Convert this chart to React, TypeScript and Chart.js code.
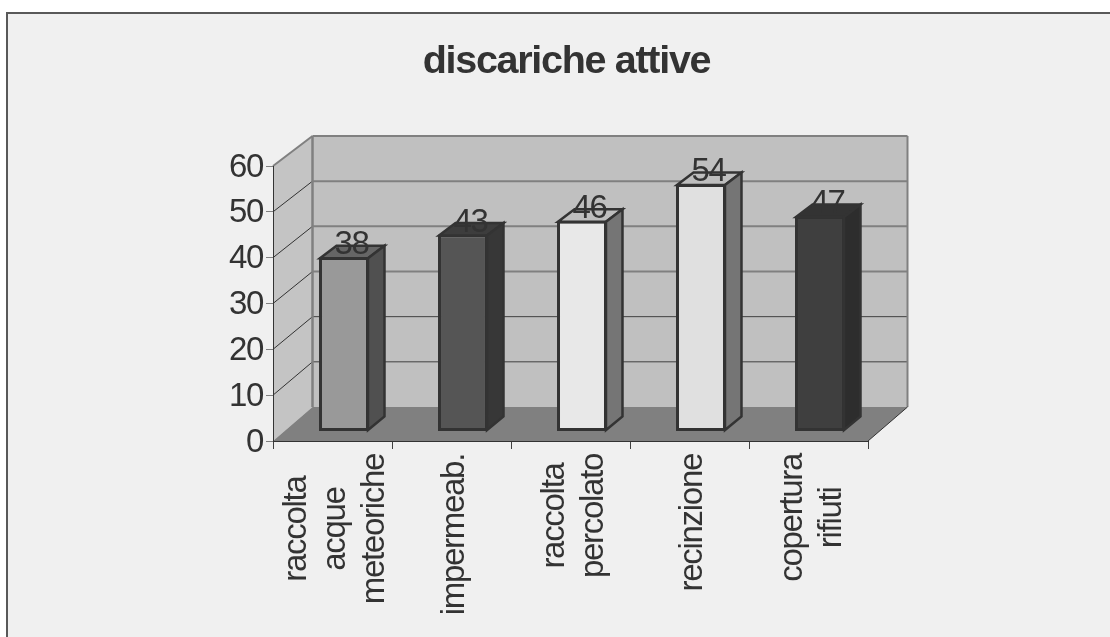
import React, { useEffect, useRef } from "react";
import { Chart, registerables } from "chart.js";

Chart.register(...registerables);

const titleText = "discariche attive";
const categories: string[][] = [
  ["raccolta", "acque", "meteoriche"],
  ["impermeab."],
  ["raccolta", "percolato"],
  ["recinzione"],
  ["copertura", "rifiuti"],
];
const values = [38, 43, 46, 54, 47];
const frontColors = ["#999999", "#555555", "#e8e8e8", "#e0e0e0", "#3f3f3f"];
const sideColors = ["#505050", "#373737", "#757575", "#757575", "#2d2d2d"];
const topColors = ["#666666", "#3d3d3d", "#bebebe", "#bebebe", "#333333"];

const FONT = '"Liberation Sans", Arial, sans-serif';
const TEXT = "#333333";
const TEXT_SIZE = 33;
const DEPTH_X = 39.5;
const DEPTH_Y = 34;
const BAR_SHIFT_X = 11.5;
const BAR_SHIFT_Y = 9.5;
const BAR_DX = 16.5;
const BAR_DY = 12.5;

const backY = (front: number, value: number) => front - DEPTH_Y + value * 0.0667;

const poly = (ctx: CanvasRenderingContext2D, pts: number[][], fill?: string, stroke?: string, lw = 1) => {
  ctx.beginPath();
  pts.forEach(([x, y], i) => (i ? ctx.lineTo(x, y) : ctx.moveTo(x, y)));
  ctx.closePath();
  if (fill) {
    ctx.fillStyle = fill;
    ctx.fill();
  }
  if (stroke) {
    ctx.strokeStyle = stroke;
    ctx.lineWidth = lw;
    ctx.lineJoin = "miter";
    ctx.stroke();
  }
};

const seg = (ctx: CanvasRenderingContext2D, x1: number, y1: number, x2: number, y2: number, c: string, lw: number) => {
  ctx.beginPath();
  ctx.moveTo(x1, y1);
  ctx.lineTo(x2, y2);
  ctx.strokeStyle = c;
  ctx.lineWidth = lw;
  ctx.stroke();
};

const box3d = {
  id: "box3d",
  afterLayout(chart: any) {
    chart.titleBlock.left = 0;
    chart.titleBlock.right = 1133;
  },
  beforeDraw(chart: any) {
    const { ctx, chartArea: a, scales } = chart;
    const y = scales.y;
    const x = scales.x;
    (ctx as any).letterSpacing = "-1.3px";
    ctx.save();
    // frame
    ctx.fillStyle = "#ffffff";
    ctx.fillRect(0, 0, chart.width, chart.height);
    ctx.fillStyle = "#f0f0f0";
    ctx.fillRect(7, 13, chart.width, chart.height);
    ctx.strokeStyle = "#595959";
    ctx.lineWidth = 2;
    ctx.strokeRect(7, 13, chart.width + 10, chart.height + 10);

    const top = y.getPixelForValue(60);
    const bot = y.getPixelForValue(0);
    const l = a.left;
    const r = a.right;
    const bTop = backY(top, 60);
    const bBot = backY(bot, 0);
    // walls and floor
    poly(ctx, [[l, top], [l + DEPTH_X, bTop], [l + DEPTH_X, bBot], [l, bot]], "#c4c4c4");
    poly(ctx, [[l + DEPTH_X, bTop], [r + DEPTH_X, bTop], [r + DEPTH_X, bBot], [l + DEPTH_X, bBot]], "#c0c0c0");
    // gridlines
    (y.ticks as any[]).forEach((t) => {
      if (t.value === 0) return;
      const fy = y.getPixelForValue(t.value);
      const by = backY(fy, t.value);
      const c = t.value >= 30 ? "#808080" : "#404040";
      const lw = t.value >= 30 ? 2 : 1;
      if (t.value < 60) seg(ctx, l, fy, l + DEPTH_X, by, "#333333", 1);
      seg(ctx, l + DEPTH_X, by, r + DEPTH_X, by, c, lw);
    });
    // wall edges
    seg(ctx, l, top, l + DEPTH_X, bTop, "#808080", 2);
    seg(ctx, l + DEPTH_X, bTop, l + DEPTH_X, bBot, "#808080", 2.5);
    seg(ctx, r + DEPTH_X, bTop, r + DEPTH_X, bBot, "#808080", 2);
    poly(ctx, [[l, bot], [l + DEPTH_X, bBot], [r + DEPTH_X, bBot], [r, bot]], "#808080");
    seg(ctx, r, bot, r + DEPTH_X, bBot, "#333333", 1);

    // x tick labels: centred lines, reading upward
    const items = x.getLabelItems(a);
    ctx.font = `${TEXT_SIZE}px ${FONT}`;
    let idx = 0;
    items.forEach((it: any) => {
      const lines: string[] = Array.isArray(it.label) ? it.label : [it.label];
      const maxW = Math.max(...lines.map((s) => ctx.measureText(s).width));
      const lh = it.font.lineHeight;
      it.options.textAlign = "center";
      it.options.translation = [x.getPixelForTick(idx) + 3.5, 454 + maxW / 2];
      it.textOffset = (-(lines.length - 1) / 2) * lh;
      idx++;
    });
    // y tick labels sit slightly lower than the tick marks
    y.getLabelItems(a).forEach((it: any, i: number) => {
      it.options.translation = [it.options.translation[0], y.getPixelForTick(i) + 1.5];
    });
    ctx.restore();
  },
  beforeDatasetDraw(chart: any) {
    chart.ctx.save();
    chart.ctx.translate(BAR_SHIFT_X, -BAR_SHIFT_Y);
  },
  afterDatasetDraw(chart: any) {
    chart.ctx.restore();
  },
  afterDatasetsDraw(chart: any) {
    const { ctx } = chart;
    const meta = chart.getDatasetMeta(0);
    ctx.save();
    ctx.translate(BAR_SHIFT_X, -BAR_SHIFT_Y);
    meta.data.forEach((bar: any, i: number) => {
      const hw = bar.width / 2;
      const L = bar.x - hw + 1;
      const R = bar.x + hw - 1;
      const T = bar.y + 1;
      const B = bar.base - 1;
      poly(ctx, [[L, T], [L + BAR_DX, T - BAR_DY], [R + BAR_DX, T - BAR_DY], [R, T]], topColors[i], "#333333", 2.5);
      poly(ctx, [[R, T], [R + BAR_DX, T - BAR_DY], [R + BAR_DX, B - BAR_DY - 1], [R, B]], sideColors[i], "#333333", 2.5);
    });
    ctx.fillStyle = TEXT;
    ctx.font = `${TEXT_SIZE}px ${FONT}`;
    ctx.textAlign = "center";
    ctx.textBaseline = "middle";
    meta.data.forEach((bar: any, i: number) => {
      ctx.fillText(String(values[i]), bar.x + 7.5, bar.y - 12);
    });
    ctx.restore();
  },
};

export default function App() {
  const ref = useRef<HTMLCanvasElement>(null);
  useEffect(() => {
    const chart = new Chart(ref.current!, {
      type: "bar",
      data: {
        labels: categories,
        datasets: [
          {
            data: values,
            backgroundColor: frontColors,
            borderColor: "#333333",
            borderWidth: 3,
            borderSkipped: false,
            barPercentage: 0.42,
            categoryPercentage: 1,
            clip: false,
          } as any,
        ],
      },
      options: {
        responsive: false,
        animation: false,
        layout: { padding: { left: 0, right: 242, top: 0, bottom: 0 } },
        plugins: {
          legend: { display: false },
          tooltip: { enabled: false },
          title: {
            display: true,
            text: titleText,
            color: TEXT,
            font: { family: FONT, size: 39.5, weight: "bold", lineHeight: 1.2 },
            padding: { top: 38, bottom: 80.6 },
          },
        },
        scales: {
          x: {
            grid: {
              offset: true,
              drawOnChartArea: false,
              drawTicks: true,
              tickLength: 8,
              color: "#404040",
            },
            border: { display: true, color: "#333333", width: 1 },
            ticks: {
              autoSkip: false,
              minRotation: 90,
              maxRotation: 90,
              color: TEXT,
              font: { family: FONT, size: TEXT_SIZE, lineHeight: 39 / TEXT_SIZE },
            },
            afterFit(s: any) {
              s.height = 196;
            },
          },
          y: {
            min: 0,
            max: 60,
            grid: {
              drawOnChartArea: false,
              drawTicks: true,
              tickLength: 7,
              color: "#808080",
            },
            border: { display: true, color: "#333333", width: 1 },
            ticks: {
              stepSize: 10,
              padding: 3,
              color: TEXT,
              font: { family: FONT, size: TEXT_SIZE },
            },
            afterFit(s: any) {
              s.width = 273;
            },
          },
        },
      } as any,
      plugins: [box3d as any],
    });
    return () => chart.destroy();
  }, []);
  return (
    <div style={{ position: "absolute", left: 0, top: 0, width: 1110, height: 637, overflow: "hidden" }}>
      <canvas ref={ref} width={1110} height={637} style={{ display: "block" }} />
    </div>
  );
}
